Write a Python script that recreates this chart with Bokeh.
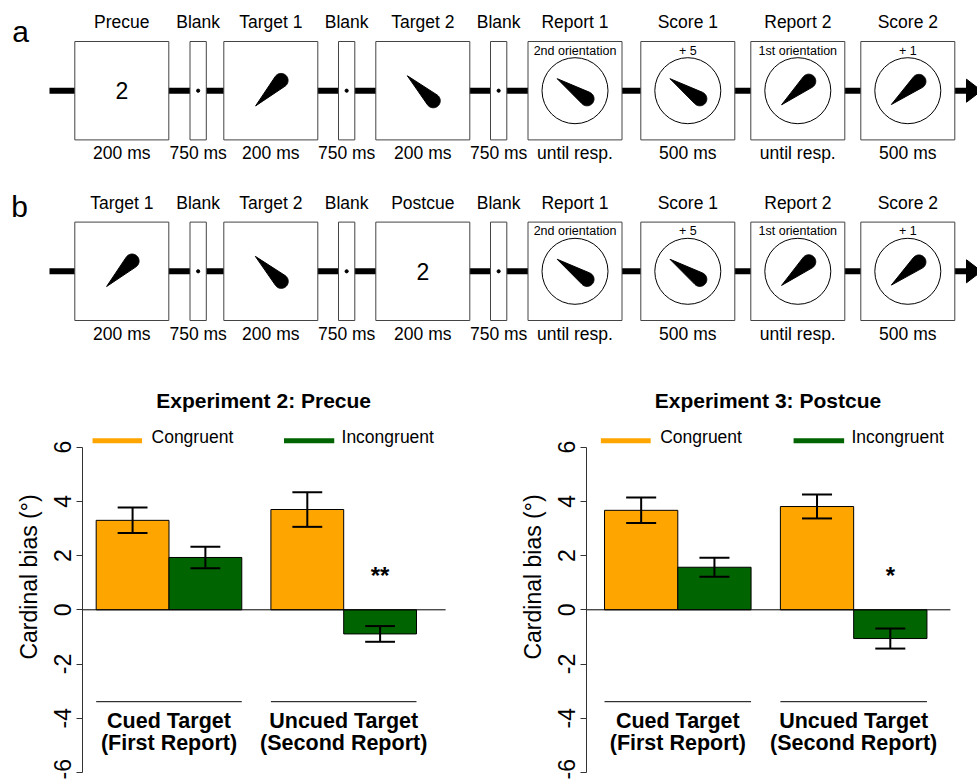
import numpy as np
from bokeh.plotting import figure
from bokeh.layouts import column, row
from bokeh.models import Range1d, FixedTicker, Label
from bokeh.core.properties import value
from bokeh.embed import file_html
from bokeh.resources import INLINE

FONT = "Liberation Sans"

# ---------------- data: bar charts (panels c, d) ----------------
groups = ["Cued Target", "Uncued Target"]
group_sub = ["(First Report)", "(Second Report)"]
conditions = ["Congruent", "Incongruent"]
cond_colors = ["#FFA500", "#006400"]
# order: cued-congruent, cued-incongruent, uncued-congruent, uncued-incongruent
exp2_mean = [3.30, 1.93, 3.70, -0.89]
exp2_se = [0.47, 0.40, 0.64, 0.29]
exp3_mean = [3.67, 1.57, 3.81, -1.06]
exp3_se = [0.47, 0.35, 0.44, 0.37]
exp2_sig = "**"
exp3_sig = "*"
y_ticks = [-6, -4, -2, 0, 2, 4, 6]
y_tick_labels = ["-6", "-4", "-2", "0", "2", "4", "6"]

# ---------------- data: trial sequences (panels a, b) ----------------
stages_a = ["Precue", "Blank", "Target 1", "Blank", "Target 2", "Blank",
            "Report 1", "Score 1", "Report 2", "Score 2"]
stages_b = ["Target 1", "Blank", "Target 2", "Blank", "Postcue", "Blank",
            "Report 1", "Score 1", "Report 2", "Score 2"]
durations = ["200 ms", "750 ms", "200 ms", "750 ms", "200 ms", "750 ms",
             "until resp.", "500 ms", "until resp.", "500 ms"]
cue_text = "2"
report_prompts = ["2nd orientation", "1st orientation"]
score_texts = ["+ 5", "+ 1"]
# orientations (deg, counter-clockwise from horizontal)
target1_ori = 45
target2_ori = -44
report_oris = [-34, -34, 41, 40]   # Report 1, Score 1, Report 2, Score 2

# ---------------- layout of the schematic (pixels) ----------------
kinds = ["big", "blank", "big", "blank", "big", "blank", "big", "big", "big", "big"]
lefts = [74.3, 189.5, 223.3, 338.0, 375.3, 490.0, 527.5, 640.3, 750.3, 860.3]
BIG_W, BLANK_W = 94.0, 16.3
ROW_Y = [90.2, 270.8]       # timeline centre for rows a and b
BOX_HALF = 49.2

top = figure(width=977, height=374, x_range=Range1d(0, 977), y_range=Range1d(374, 0),
             output_backend="svg", toolbar_location=None, min_border=0,
             x_axis_location=None, y_axis_location=None, outline_line_color=None)
top.grid.visible = False


def needle_poly(cx, cy, ang_deg, L=36.0, r=7.0):
    a = np.deg2rad(ang_deg)
    dx, dy = np.cos(a), -np.sin(a)
    tipx, tipy = cx - 21.5 * dx, cy - 21.5 * dy
    bx, by = tipx + L * dx, tipy + L * dy
    phi = np.arctan2(dy, dx)
    off = np.pi - np.arccos(r / L)
    t = np.linspace(phi - off, phi + off, 40)
    xs = [tipx] + list(bx + r * np.cos(t))
    ys = [tipy] + list(by + r * np.sin(t))
    return xs, ys


def draw_row(stages, yc, first_needles):
    # timeline with arrow
    top.segment(x0=[49], y0=[yc], x1=[968], y1=[yc], line_width=6, line_color="black")
    top.patch(x=[966, 981, 966], y=[yc - 11.5, yc, yc + 11.5], color="black")
    widths = [BIG_W if k == "big" else BLANK_W for k in kinds]
    rights = [l + w for l, w in zip(lefts, widths)]
    centers = [l + w / 2 for l, w in zip(lefts, widths)]
    top.quad(left=lefts, right=rights, top=[yc - BOX_HALF] * 10, bottom=[yc + BOX_HALF] * 10,
             fill_color="white", line_color="#444444", line_width=1)
    top.text(x=centers, y=[yc - BOX_HALF - 19.5] * 10, text=stages,
             text_font=value(FONT), text_font_size="17.5px", text_align="center",
             text_baseline="middle", text_color="black")
    top.text(x=centers, y=[yc + BOX_HALF + 13] * 10, text=durations,
             text_font=value(FONT), text_font_size="17.5px", text_align="center",
             text_baseline="middle", text_color="black")
    blank_c = [c for c, k in zip(centers, kinds) if k == "blank"]
    top.circle(x=blank_c, y=[yc] * len(blank_c), radius=1.6, color="black")
    # cue / targets in first three big boxes
    big_c = [c for c, k in zip(centers, kinds) if k == "big"]
    for cx, item in zip(big_c[:3], first_needles):
        if item == "cue":
            top.text(x=[cx], y=[yc], text=[cue_text], text_font=value(FONT),
                     text_font_size="23px", text_align="center", text_baseline="middle",
                     text_color="black")
        else:
            xs, ys = needle_poly(cx, yc, item)
            top.patch(x=xs, y=ys, color="black")
    # response and score boxes
    resp_c = big_c[3:]
    top.circle(x=resp_c, y=[yc] * 4, radius=33, fill_color=None, line_color="black",
               line_width=1)
    top.text(x=resp_c, y=[yc - 40] * 4,
             text=[report_prompts[0], score_texts[0], report_prompts[1], score_texts[1]],
             text_font=value(FONT), text_font_size="12.5px", text_align="center",
             text_baseline="middle", text_color="black")
    for cx, ori in zip(resp_c, report_oris):
        xs, ys = needle_poly(cx, yc, ori)
        top.patch(x=xs, y=ys, color="black")


draw_row(stages_a, ROW_Y[0], ["cue", target1_ori, target2_ori])
draw_row(stages_b, ROW_Y[1], [target1_ori, target2_ori, "cue"])
top.text(x=[20, 19], y=[31, 206], text=["a", "b"], text_font=value(FONT),
         text_font_size="30px", text_align="center", text_baseline="middle", text_color="black")

# ---------------- bar charts ----------------
bar_x = [0.5, 1.5, 2.9, 3.9]
group_x = [1.0, 3.4]
group_span = [(0.0, 2.0), (2.4, 4.4)]
BAR_W = 1.0
CAP = 0.205


def bar_panel(width, border_left, xr, zero_end, title, letter, letter_x, title_x,
              means, ses, sig):
    p = figure(width=width, height=405, x_range=Range1d(*xr), y_range=Range1d(-6.26, 8.68),
               output_backend="svg", toolbar_location=None, x_axis_location=None,
               min_border_left=border_left, min_border_right=0, min_border_top=0,
               min_border_bottom=0, outline_line_color=None)
    p.grid.visible = False
    ax = p.yaxis[0]
    ax.ticker = FixedTicker(ticks=y_ticks)
    ax.major_label_overrides = {t: s for t, s in zip(y_ticks, y_tick_labels)}
    ax.bounds = (-6, 6)
    ax.major_tick_out = 6
    ax.major_tick_in = 0
    ax.minor_tick_line_color = None
    ax.axis_line_color = "#333333"
    ax.major_tick_line_color = "#333333"
    ax.major_label_orientation = "vertical"
    ax.major_label_text_font = FONT
    ax.major_label_text_font_size = "23px"
    ax.major_label_text_color = "black"
    ax.major_label_standoff = 5
    ax.axis_label = "Cardinal bias (°)"
    ax.axis_label_text_font = FONT
    ax.axis_label_text_font_size = "23px"
    ax.axis_label_text_font_style = "normal"
    ax.axis_label_text_color = "black"
    ax.axis_label_standoff = 10

    fills = [cond_colors[0], cond_colors[1], cond_colors[0], cond_colors[1]]
    p.vbar(x=bar_x, top=means, bottom=0, width=BAR_W, fill_color=fills,
           line_color="black", line_width=1)
    p.segment(x0=[xr[0]], y0=[0], x1=[zero_end], y1=[0], line_color="black", line_width=1)
    lo = [m - s for m, s in zip(means, ses)]
    hi = [m + s for m, s in zip(means, ses)]
    p.segment(x0=bar_x, y0=lo, x1=bar_x, y1=hi, line_color="black", line_width=2)
    p.segment(x0=[x - CAP for x in bar_x], y0=lo, x1=[x + CAP for x in bar_x], y1=lo,
              line_color="black", line_width=2)
    p.segment(x0=[x - CAP for x in bar_x], y0=hi, x1=[x + CAP for x in bar_x], y1=hi,
              line_color="black", line_width=2)
    # significance
    p.text(x=[bar_x[3]], y=[1.27], text=[sig], text_font=value(FONT), text_font_size="24px",
           text_font_style="bold", text_align="center", text_baseline="middle",
           text_color="black")
    # group separators and labels
    p.segment(x0=[s[0] for s in group_span], y0=[-3.39] * 2, x1=[s[1] for s in group_span],
              y1=[-3.39] * 2, line_color="black", line_width=1)
    p.text(x=group_x, y=[-4.10] * 2, text=groups, text_font=value(FONT),
           text_font_size="21.5px", text_font_style="bold", text_align="center",
           text_baseline="middle", text_color="black")
    p.text(x=group_x, y=[-4.91] * 2, text=group_sub, text_font=value(FONT),
           text_font_size="21.5px", text_font_style="bold", text_align="center",
           text_baseline="middle", text_color="black")
    # title
    p.text(x=[title_x], y=[7.72], text=[title], text_font=value(FONT), text_font_size="21px",
           text_font_style="bold", text_align="center", text_baseline="middle",
           text_color="black")
    # legend
    p.segment(x0=[-0.05, 2.58], y0=[6.24, 6.24], x1=[0.63, 3.27], y1=[6.24, 6.24],
              line_color=cond_colors, line_width=5)
    p.text(x=[0.76, 3.37], y=[6.38, 6.38], text=conditions, text_font=value(FONT),
           text_font_size="17.5px", text_align="left", text_baseline="middle",
           text_color="black")
    p.add_layout(Label(x=letter_x, y=7.76, text=letter, text_font=FONT,
                       text_font_size="30px", text_align="center", text_baseline="middle",
                       text_color="black"))
    return p


pc = bar_panel(488, 82, (-0.188, 5.389), 4.80, "Experiment 2: Precue", "c", -1.04, 2.30,
               exp2_mean, exp2_se, exp2_sig)
pd_ = bar_panel(489, 98, (-0.246, 5.09), 4.72, "Experiment 3: Postcue", "d", -1.23, 2.23,
                exp3_mean, exp3_se, exp3_sig)

layout = column(top, row(pc, pd_, spacing=0), spacing=0)
open("out.html", "w").write(file_html(layout, INLINE))
